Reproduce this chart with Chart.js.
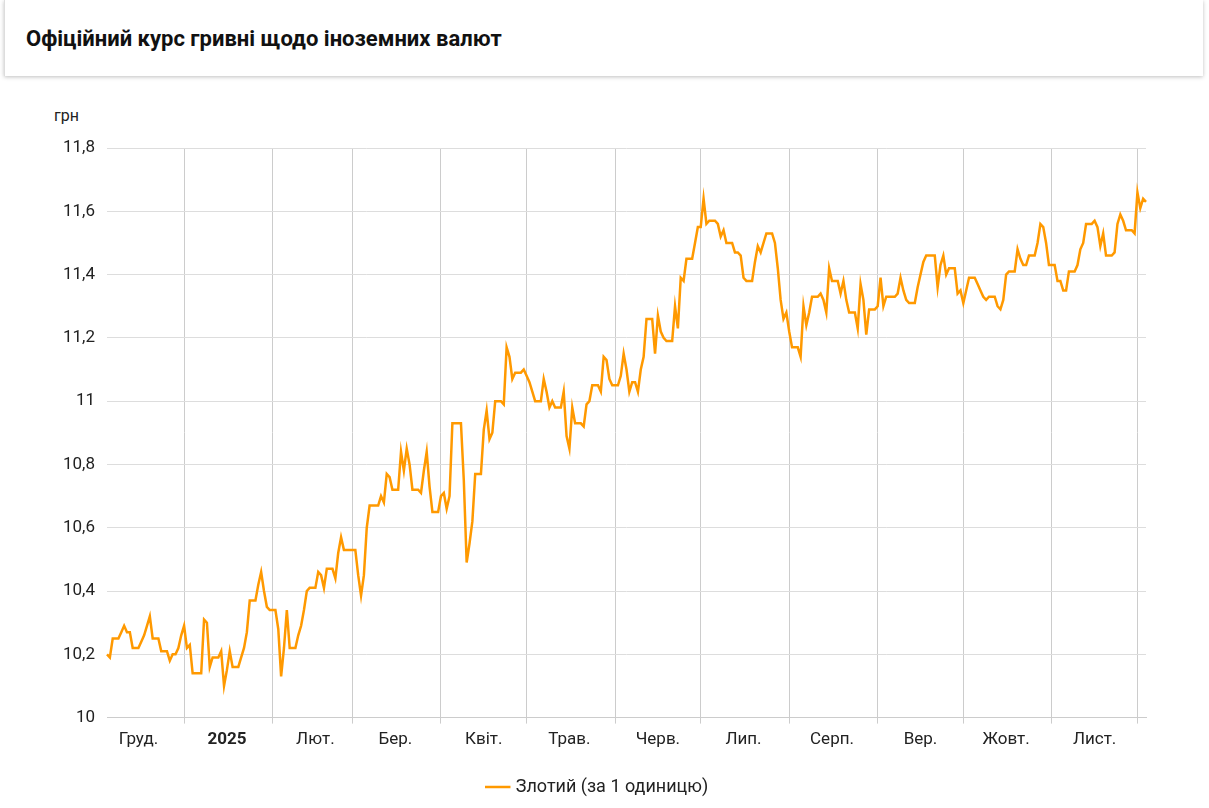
<!DOCTYPE html>
<html lang="uk">
<head>
<meta charset="utf-8">
<script src="https://cdn.jsdelivr.net/npm/chart.js@4"></script>
<style>
  body { margin: 0; background: #fff; font-family: Roboto, sans-serif; width: 1209px; height: 808px; overflow: hidden; position: relative; }
  .head { position: absolute; left: 4px; top: 0; width: 1198px; height: 76px; box-shadow: 0 1px 4px rgba(0,0,0,0.25); border-left: 1px solid #ddd; background: #fff; }
  .head h1 { margin: 0; position: absolute; left: 21px; top: 26px; font-size: 22px; font-weight: 700; color: #111; }
  .unit { position: absolute; left: 54px; top: 106px; font-size: 16px; color: #222; }
  .box { position: absolute; left: 0; top: 85px; width: 1209px; height: 723px; }
</style>
</head>
<body>
<div class="head"><h1>Офіційний курс гривні щодо іноземних валют</h1></div>
<div class="unit">грн</div>
<div class="box"><canvas id="chart"></canvas></div>
<script>
// курс злотого, щоденно з 5 грудня 2024
const dec24 = [10.20,10.19,10.25,10.25,10.25,10.27,10.29,10.27,10.27,10.22,10.22,10.22,10.24,10.26,10.29,10.32,10.25,10.25,10.25,10.21,10.21,10.21,10.18,10.20,10.20,10.22,10.26];
const jan = [10.29,10.22,10.23,10.14,10.14,10.14,10.14,10.31,10.30,10.16,10.19,10.19,10.19,10.21,10.10,10.15,10.21,10.16,10.16,10.16,10.19,10.22,10.27,10.37,10.37,10.37,10.42,10.46,10.40,10.35,10.34];
const feb = [10.34,10.34,10.28,10.13,10.22,10.34,10.22,10.22,10.22,10.26,10.29,10.34,10.40,10.41,10.41,10.41,10.46,10.45,10.41,10.47,10.47,10.47,10.44,10.52,10.57,10.53,10.53,10.53];
const mar = [10.53,10.53,10.45,10.385,10.45,10.60,10.67,10.67,10.67,10.67,10.70,10.68,10.77,10.76,10.72,10.72,10.72,10.84,10.78,10.85,10.80,10.72,10.72,10.72,10.71,10.78,10.84,10.73,10.65,10.65,10.65];
const apr = [10.70,10.71,10.66,10.70,10.93,10.93,10.93,10.93,10.75,10.49,10.55,10.62,10.77,10.77,10.77,10.91,10.97,10.88,10.90,11.00,11.00,11.00,10.99,11.17,11.14,11.07,11.09,11.09,11.09,11.10];
const may = [11.08,11.06,11.03,11.00,11.00,11.00,11.07,11.03,10.98,11.00,10.98,10.98,10.98,11.03,10.89,10.85,10.98,10.93,10.93,10.93,10.92,10.99,11.00,11.05,11.05,11.05,11.03,11.14,11.13,11.07,11.05];
const jun = [11.05,11.05,11.08,11.15,11.10,11.03,11.06,11.06,11.03,11.10,11.14,11.26,11.26,11.26,11.15,11.27,11.22,11.20,11.19,11.19,11.19,11.30,11.23,11.39,11.38,11.45,11.45,11.45,11.50,11.55];
const jul = [11.55,11.64,11.56,11.57,11.57,11.57,11.56,11.52,11.54,11.50,11.50,11.50,11.47,11.47,11.46,11.39,11.38,11.38,11.38,11.44,11.49,11.47,11.50,11.53,11.53,11.53,11.50,11.42,11.32,11.26,11.28];
const aug = [11.22,11.17,11.17,11.17,11.14,11.30,11.24,11.28,11.33,11.33,11.33,11.34,11.32,11.28,11.42,11.38,11.38,11.38,11.34,11.38,11.32,11.28,11.28,11.28,11.23,11.37,11.32,11.21,11.29,11.29,11.29];
const sep = [11.30,11.39,11.30,11.33,11.33,11.33,11.33,11.34,11.39,11.35,11.32,11.31,11.31,11.31,11.36,11.40,11.44,11.46,11.46,11.46,11.46,11.36,11.43,11.46,11.40,11.42,11.42,11.42,11.34,11.35];
const oct = [11.31,11.35,11.39,11.39,11.39,11.37,11.35,11.33,11.32,11.33,11.33,11.33,11.30,11.29,11.32,11.40,11.41,11.41,11.41,11.48,11.45,11.43,11.43,11.46,11.46,11.46,11.50,11.56,11.55,11.50,11.43];
const nov = [11.43,11.43,11.38,11.38,11.35,11.35,11.41,11.41,11.41,11.43,11.48,11.50,11.56,11.56,11.56,11.57,11.55,11.49,11.53,11.46,11.46,11.46,11.47,11.56,11.59,11.57,11.54,11.54,11.54,11.53];
const dec25 = [11.66,11.61,11.64,11.63];

const monthNames = ['Січ.', 'Лют.', 'Бер.', 'Квіт.', 'Трав.', 'Черв.', 'Лип.', 'Серп.', 'Вер.', 'Жовт.', 'Лист.', 'Груд.'];
const seriesLabel = 'Злотий (за 1 одиницю)';

const values = [].concat(dec24, jan, feb, mar, apr, may, jun, jul, aug, sep, oct, nov, dec25);
const dates = values.map((v, i) => new Date(Date.UTC(2024, 11, 5 + i)));

function tickText(i) {
    const d = dates[i];
    if (d.getUTCDate() !== 16) return '';
    if (d.getUTCMonth() === 0 && d.getUTCFullYear() === 2025) return '2025';
    return monthNames[d.getUTCMonth()];
}

new Chart(document.getElementById('chart'), {
    type: 'line',
    data: {
        labels: dates.map((d, i) => i),
        datasets: [{
            label: seriesLabel,
            data: values,
            borderColor: '#ff9900',
            backgroundColor: '#ff9900',
            borderWidth: 2.5,
            pointRadius: 0,
            tension: 0
        }]
    },
    options: {
        responsive: true,
        maintainAspectRatio: false,
        animation: false,
        layout: { padding: { top: 63, left: 51, right: 63, bottom: 2 } },
        plugins: {
            legend: {
                position: 'bottom',
                labels: { usePointStyle: true, pointStyle: 'line', boxWidth: 30, color: '#222', font: { family: 'Roboto', size: 18 }, padding: 22 }
            },
            tooltip: { enabled: false }
        },
        scales: {
            x: {
                grid: {
                    color: (c) => (c.tick && dates[c.tick.value] && dates[c.tick.value].getUTCDate() === 1) ? '#cccccc' : 'rgba(0,0,0,0)',
                    tickLength: 6
                },
                border: { color: '#cccccc' },
                ticks: {
                    autoSkip: false,
                    maxRotation: 0,
                    color: '#222',
                    padding: 6,
                    font: (c) => ({ family: 'Roboto', size: 17, weight: c.tick && c.tick.label === '2025' ? 'bold' : 'normal' }),
                    callback: (v, i) => tickText(i)
                }
            },
            y: {
                min: 10,
                max: 11.8,
                grid: { color: '#dddddd', drawTicks: false },
                border: { display: false },
                ticks: {
                    stepSize: 0.2,
                    color: '#222',
                    padding: 12,
                    font: { family: 'Roboto', size: 17 },
                    callback: (v) => String(Math.round(v * 10) / 10).replace('.', ',')
                }
            }
        }
    }
});
</script>
</body>
</html>
